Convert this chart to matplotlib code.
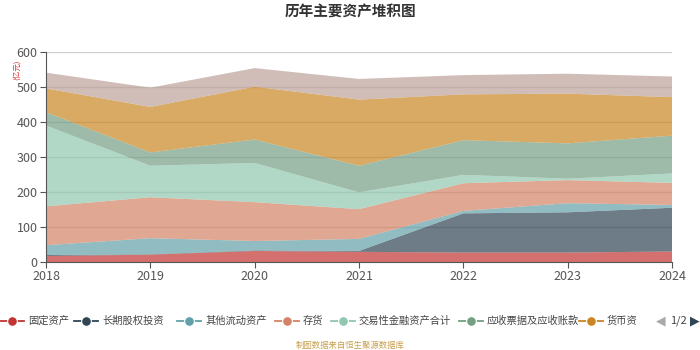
import matplotlib
matplotlib.use("Agg")
import matplotlib.pyplot as plt
from matplotlib.lines import Line2D

plt.rcParams["font.family"] = ["Noto Sans CJK SC", "DejaVu Sans"]

# values in 亿元 (stacked bottom -> top)
years = [2018, 2019, 2020, 2021, 2022, 2023, 2024]
fixed_assets = [17, 21, 31.5, 29, 27, 27, 30]
lt_equity = [3, 1, 1.5, 2.5, 112, 115, 125]
other_current = [28, 46, 27, 34.5, 7, 26, 8]
inventory = [111, 117, 111, 85, 79, 66, 63]
trading_fin = [231, 90, 112, 48, 24, 4, 27]
receivables = [38, 38, 67, 76, 99, 101, 108]
cash = [68, 130, 151, 189, 131, 142, 110]
other = [45, 55, 53, 59, 55, 57, 59]

names = ["固定资产", "长期股权投资", "其他流动资产", "存货", "交易性金融资产合计",
         "应收票据及应收账款", "货币资金", "其他"]
colors = ["#c23531", "#2f4554", "#61a0a8", "#d48265", "#91c7ae",
          "#749f83", "#ca8622", "#bda29a"]
series = [fixed_assets, lt_equity, other_current, inventory, trading_fin,
          receivables, cash, other]

fig = plt.figure(figsize=(7, 3.5), dpi=100)
ax = fig.add_axes([46 / 700, 1 - 262 / 350, 626 / 700, 210 / 350])

ax.stackplot(years, *series, colors=colors, alpha=0.7, lw=0, zorder=2)
ax.set_xlim(2018, 2024)
ax.set_ylim(0, 600)
ax.set_yticks(range(0, 601, 100))
ax.set_xticks(years)
ax.set_axisbelow(True)
ax.grid(axis="y", color="#d0d0d0", lw=1.0, zorder=0)
for s in ["top", "right"]:
    ax.spines[s].set_visible(False)
ax.spines["left"].set_color("#555555")
ax.spines["bottom"].set_color("#555555")
ax.tick_params(axis="y", length=4, color="#555555", labelsize=9, labelcolor="#555555", pad=2)
ax.tick_params(axis="x", length=4, color="#555555", labelsize=9, labelcolor="#555555", pad=2)

fig.text(0.5, 1 - 12 / 350, "历年主要资产堆积图", ha="center", va="center",
         fontsize=10.5, fontweight="bold", color="#333333")
fig.text(17 / 700, 1 - 70 / 350, "(亿元)", rotation=90, ha="center", va="center",
         fontsize=5.5, color="#e03030")

# legend, first page only
leg_y = 1 - 321 / 350
marker_x = [12, 86, 189, 287, 343, 471, 591]
for i in range(7):
    mx = marker_x[i] / 700
    fig.add_artist(Line2D([mx - 12 / 700, mx + 12 / 700], [leg_y, leg_y],
                          color=colors[i], lw=1.3, transform=fig.transFigure))
    fig.add_artist(Line2D([mx], [leg_y], marker="o", ms=7, color=colors[i],
                          mec="white", mew=0.8, transform=fig.transFigure))
    label = names[i] if i < 6 else names[i][:3]
    fig.text(mx + 16 / 700, leg_y, label, ha="left", va="center", fontsize=7.4, color="#444444")
fig.text(661 / 700, leg_y, "◀", ha="center", va="center", fontsize=9, color="#aaaaaa",
         family=["DejaVu Sans"])
fig.text(678 / 700, leg_y, "1/2", ha="center", va="center", fontsize=8, color="#444444")
fig.text(695 / 700, leg_y, "▶", ha="center", va="center", fontsize=9, color="#2f4554",
         family=["DejaVu Sans"])

fig.text(0.5, 1 - 345 / 350, "制图数据来自恒生聚源数据库", ha="center", va="center",
         fontsize=6, color="#c8a050")

fig.savefig("out.png", dpi=100)
